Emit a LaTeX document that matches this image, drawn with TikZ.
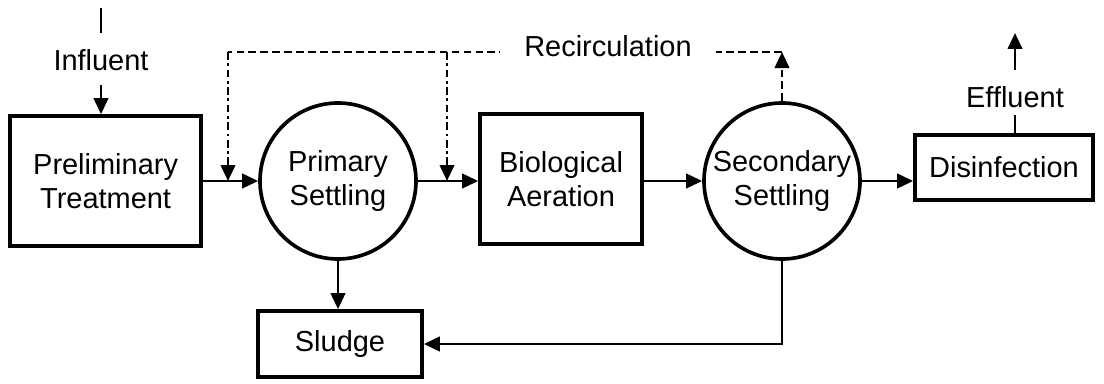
\documentclass[tikz,border=0pt]{standalone}
\usepackage{fontspec}
\setmainfont{Liberation Sans}
\usetikzlibrary{arrows.meta,positioning}

\begin{document}
\begin{tikzpicture}[
    font=\fontsize{20.6}{24}\selectfont,
    unit/.style={draw, line width=2.6pt, align=center, inner sep=0pt},
    tank/.style={draw, circle, line width=2.6pt, align=center, inner sep=0pt, minimum size=3.9cm},
    flow/.style={line width=2pt, -{Triangle[length=4mm,width=3.6mm]}},
    recirc/.style={line width=1.9pt, dash pattern=on 5.5pt off 3pt},
    feedback/.style={line width=1.9pt, dash pattern=on 5.5pt off 2.5pt on 2pt off 2.5pt, -{Triangle[length=4mm,width=3.6mm]}}
]
            \useasboundingbox (0,0) rectangle (27.6,9.575);

            % Process units
            \node[unit, minimum width=4.775cm, minimum height=3.25cm] (prelim) at (2.64,5.05) {Preliminary\\Treatment};
            \node[tank] (primary) at (8.45,5.05) {Primary\\Settling};
            \node[unit, minimum width=4.05cm, minimum height=3.25cm] (bio) at (14.025,5.1) {Biological\\Aeration};
            \node[tank] (secondary) at (19.55,5.05) {Secondary\\Settling};
            \node[unit, minimum width=4.45cm, minimum height=1.625cm] (disinf) at (25.1,5.39) {Disinfection};
            \node[unit, minimum width=4.1cm, minimum height=1.65cm] (sludge) at (8.5,0.975) {Sludge};

            % Influent
            \node (influent) at (2.525,8.075) {Influent};
            \coordinate (intop) at (2.525,9.375);
            \coordinate (inbot) at (2.525,8.75);
            \coordinate (inarr) at (2.525,7.45);
            \draw[line width=2pt] (intop) -- (inbot);
            \draw[flow] (inarr) -- (inarr |- prelim.north);

            % Main flow
            \draw[flow] (prelim.east) -- (primary.west);
            \draw[flow] (primary.east) -- (primary.east -| bio.west);
            \draw[flow] (bio.east |- secondary.west) -- (secondary.west);
            \draw[flow] (secondary.east) -- (secondary.east -| disinf.west);

            % Effluent
            \node (effluent) at (25.375,7.15) {Effluent};
            \coordinate (efbot) at (25.375,6.7);
            \coordinate (efarr) at (25.375,7.825);
            \coordinate (eftop) at (25.375,8.75);
            \draw[line width=2pt] (efbot |- disinf.north) -- (efbot);
            \draw[flow] (efarr) -- (eftop);

            % Sludge
            \draw[flow] (primary.south) -- (primary.south |- sludge.north);
            \draw[flow] (secondary.south) |- (sludge.east);

            % Recirculation
            \coordinate (rtop) at (19.55,8.275);
            \coordinate (r1) at (5.7,8.275);
            \coordinate (r2) at (11.175,8.275);
            \draw[recirc, -{Triangle[length=4mm,width=3.6mm]}] (secondary.north) -- (rtop);
            \draw[recirc] (rtop) -- (r1);
            \draw[feedback] (r1) -- (r1 |- prelim.east);
            \draw[feedback] (r2) -- (r2 |- primary.east);
            \node[fill=white, inner xsep=0.6cm, inner ysep=2pt] (recirc) at (15.2,8.43) {Recirculation};
\end{tikzpicture}
\end{document}
